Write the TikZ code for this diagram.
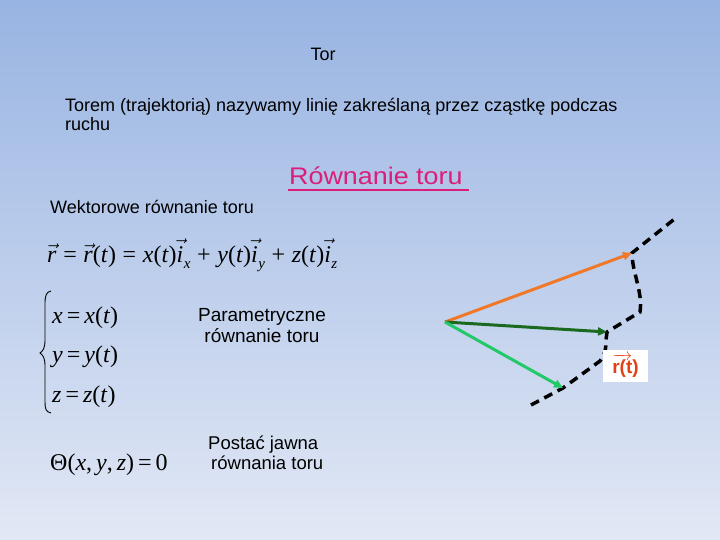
\documentclass[tikz,border=0pt]{standalone}
\usepackage{fontspec}
\setmainfont{Liberation Sans}
\newfontfamily\tnr{Liberation Serif}
\usetikzlibrary{arrows.meta}
\definecolor{bgtop}{RGB}{152,180,226}
\definecolor{bgbot}{RGB}{226,232,245}
\definecolor{pinkt}{RGB}{218,30,122}
\definecolor{orarrow}{RGB}{240,120,40}
\definecolor{dkgreen}{RGB}{25,105,30}
\definecolor{ltgreen}{RGB}{35,200,105}
\definecolor{lblred}{RGB}{225,65,20}
\newcommand{\mv}[1]{\textit{#1}}
\newcommand{\vv}[1]{$\vec{\hbox{\mv{#1}}}$}
\newcommand{\sbs}[1]{\kern0.5pt\raisebox{-0.25em}{\fontsize{15}{15}\selectfont\mv{#1}}}
\begin{document}
\begin{tikzpicture}[x=1pt,y=-1pt,
  txt/.style={inner sep=0pt, anchor=base west, font=\fontsize{18}{20}\selectfont},
  eqn/.style={inner sep=0pt, anchor=base west, font=\tnr\fontsize{24}{28}\selectfont},
  vecarrow/.style={line width=3pt, -{Triangle[length=9pt,width=8pt]}},
  trajline/.style={line width=3.5pt, dash pattern=on 9pt off 6pt, black}]
\fill[top color=bgtop, bottom color=bgbot] (0,0) rectangle (720,540);
\useasboundingbox (0,0) rectangle (720,540);

\node[txt, anchor=base] (title) at (323,61) {Tor};
\node[txt] (def1) at (65,112) {Torem (trajektorią) nazywamy linię zakreślaną przez cząstkę podczas};
\node[txt] (def2) at (65,131) {ruchu};
\node[inner sep=0pt, anchor=base west, font=\fontsize{24}{28}\selectfont, text=pinkt] (head) at (289,185) {\scalebox{1.12}[1]{Równanie toru}};
\draw[pinkt, line width=2pt] (288,190.5) -- (469,190.5);
\node[txt] (vtitle) at (50,214) {Wektorowe równanie toru};

\node[eqn] (veq) at (47,262) {\vv{r}\;=\;\vv{r}(\mv{t})\;=\;\mv{x}(\mv{t})\vv{i}\sbs{x}\;+\;\mv{y}(\mv{t})\vv{i}\sbs{y}\;+\;\mv{z}(\mv{t})\vv{i}\sbs{z}};

\draw[line width=0.9pt] (51,291) .. controls (46,292) and (45,296) .. (45,304) -- (45,340)
  .. controls (45,348) and (43,351) .. (40,353) .. controls (43,355) and (45,358) .. (45,366)
  -- (45,402) .. controls (45,409) and (46,412) .. (51,413);
\node[eqn] (px) at (52,323) {\mv{x}\,=\,\mv{x}(\mv{t})};
\node[eqn] (py) at (52,362) {\mv{y}\,=\,\mv{y}(\mv{t})};
\node[eqn] (pz) at (52,402) {\mv{z}\,=\,\mv{z}(\mv{t})};
\node[txt, anchor=base, font=\fontsize{19}{21}\selectfont] (par1) at (262,321) {Parametryczne};
\node[txt, anchor=base, font=\fontsize{19}{21}\selectfont] (par2) at (262,342) {równanie toru};

\node[eqn] (theta) at (50,470) {Θ(\mv{x},\,\mv{y},\,\mv{z})\,=\,0};
\node[txt, font=\fontsize{18.5}{20}\selectfont] (jaw1) at (208,449) {Postać jawna};
\node[txt, font=\fontsize{18.5}{20}\selectfont] (jaw2) at (211,469) {równania toru};

\coordinate (O) at (445,322);
\coordinate (A) at (632,253);
\coordinate (B) at (607,332);
\coordinate (C) at (563,388);
\coordinate (T0) at (531,405);
\coordinate (T1) at (600,361);
\coordinate (T2) at (640,312);
\coordinate (T3) at (677,217);
\draw[trajline] (T0) -- (C) -- (T1) .. controls (605,356) and (606,348) .. (606,340) -- (B)
  -- (T2) .. controls (643,292) and (632,272) .. (A) -- (T3);
\draw[vecarrow, orarrow] (O) -- (A);
\draw[vecarrow, dkgreen] (O) -- (B);
\draw[vecarrow, ltgreen] (O) -- (C);

\node[fill=white, minimum width=45pt, minimum height=32pt, inner sep=0pt,
  text=lblred, font=\bfseries\fontsize{19}{20}\selectfont] (lbl) at (625.5,366)
  {$\overrightarrow{\hbox{r(t}}$\hbox{)}};
\end{tikzpicture}
\end{document}
